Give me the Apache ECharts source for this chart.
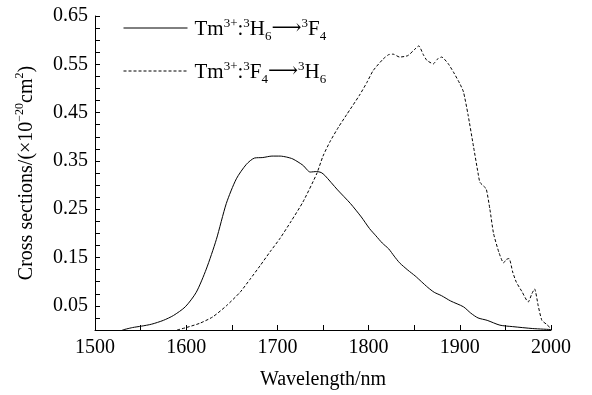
<!DOCTYPE html>
<html>
<head>
<meta charset="utf-8">
<script src="https://cdn.jsdelivr.net/npm/echarts@6/dist/echarts.min.js"></script>
<style>
  html, body { margin: 0; padding: 0; background: #fff; }
  #chart { width: 592px; height: 395px; }
</style>
</head>
<body>
<div id="chart"></div>
<script>
// Tm3+ absorption (3H6 -> 3F4), solid line
const absWl = [1530, 1541, 1551, 1562, 1575, 1586, 1599, 1611, 1622, 1633, 1644, 1655, 1666, 1675, 1684, 1694, 1703, 1710, 1717, 1728, 1736, 1743, 1748, 1752, 1766, 1780, 1792, 1801, 1808, 1815, 1822, 1828, 1834, 1843, 1851, 1858, 1865, 1872, 1880, 1890, 1904, 1912, 1920, 1930, 1944, 1958, 1980, 2000];
const absVal = [0, 0.005, 0.008, 0.012, 0.02, 0.03, 0.048, 0.078, 0.126, 0.187, 0.262, 0.313, 0.343, 0.356, 0.357, 0.36, 0.36, 0.358, 0.354, 0.341, 0.327, 0.328, 0.326, 0.32, 0.29, 0.262, 0.234, 0.21, 0.195, 0.18, 0.168, 0.153, 0.139, 0.124, 0.112, 0.1, 0.088, 0.078, 0.071, 0.06, 0.048, 0.035, 0.025, 0.02, 0.01, 0.007, 0.003, 0.001];

// Tm3+ emission (3F4 -> 3H6), dashed line
const emiWl = [1590, 1600, 1615, 1629, 1644, 1659, 1670, 1681, 1692, 1703, 1715, 1728, 1743, 1750, 1758, 1767, 1776, 1790, 1798, 1805, 1816, 1822, 1827, 1834, 1843, 1850, 1855, 1860, 1864, 1871, 1875, 1880, 1887, 1893, 1900, 1904, 1909, 1915, 1920, 1922, 1926, 1929, 1933, 1937, 1943, 1948, 1951, 1954, 1958, 1962, 1968, 1975, 1979, 1982, 1986, 1990, 1995, 2000];
const emiVal = [0, 0.005, 0.014, 0.027, 0.05, 0.078, 0.105, 0.133, 0.162, 0.19, 0.225, 0.265, 0.323, 0.36, 0.391, 0.42, 0.446, 0.486, 0.512, 0.537, 0.561, 0.57, 0.571, 0.565, 0.568, 0.58, 0.588, 0.57, 0.558, 0.551, 0.56, 0.565, 0.552, 0.534, 0.51, 0.493, 0.446, 0.38, 0.325, 0.306, 0.298, 0.292, 0.25, 0.2, 0.16, 0.139, 0.146, 0.148, 0.12, 0.099, 0.08, 0.058, 0.075, 0.085, 0.05, 0.02, 0.012, 0.003];

const xTicks = [1500, 1600, 1700, 1800, 1900, 2000];
const yTicks = [0.05, 0.15, 0.25, 0.35, 0.45, 0.55, 0.65];

const font = "'Liberation Serif', 'Times New Roman', serif";
const rich = {
  n: { fontFamily: font, fontSize: 21, color: '#000', verticalAlign: 'bottom', lineHeight: 24 },
  sup: { fontFamily: font, fontSize: 13, color: '#000', verticalAlign: 'top', lineHeight: 24, padding: [1, 0, 0, 0] },
  sub: { fontFamily: font, fontSize: 13, color: '#000', verticalAlign: 'bottom', lineHeight: 24, padding: [0, 0, -3, 0] },
  arr: { fontFamily: "'DejaVu Serif', serif", fontSize: 21, color: '#000', verticalAlign: 'bottom', lineHeight: 24, padding: [0, 0, 1, 0] }
};
const legendText = {
  abs: '{n|Tm}{sup|3+}{n|:}{sup|3}{n|H}{sub|6}{arr|\u27f6}{sup|3}{n|F}{sub|4}',
  emi: '{n|Tm}{sup|3+}{n|:}{sup|3}{n|F}{sub|4}{arr|\u27f6}{sup|3}{n|H}{sub|6}'
};
const yNameRich = {
  n: { fontFamily: font, fontSize: 20, color: '#000', verticalAlign: 'bottom', lineHeight: 24 },
  sup: { fontFamily: font, fontSize: 12, color: '#000', verticalAlign: 'top', lineHeight: 24, padding: [1, 0, 0, 0] }
};

const near = (v, list) => list.some(t => Math.abs(v - t) < 1e-6);

const chart = echarts.init(document.getElementById('chart'));
chart.setOption({
  animation: false,
  backgroundColor: '#fff',
  textStyle: { fontFamily: font, color: '#000' },
  grid: { left: 95, right: 41, top: 16, bottom: 61 },
  legend: {
    orient: 'vertical',
    left: 118,
    top: 11,
    itemWidth: 64,
    itemHeight: 14,
    itemGap: 16,
    data: ['abs', 'emi'],
    itemStyle: { opacity: 0 },
    lineStyle: { width: 1 },
    formatter: name => legendText[name],
    textStyle: { rich: rich, padding: [0, 0, 0, 2] }
  },
  xAxis: {
    type: 'value',
    min: 1500,
    max: 2000,
    interval: 50,
    name: 'Wavelength/nm',
    nameLocation: 'middle',
    nameGap: 40,
    nameTextStyle: { fontFamily: font, fontSize: 20, color: '#000' },
    axisLine: { lineStyle: { color: '#000', width: 1 } },
    axisTick: { inside: true, length: 5, lineStyle: { color: '#000' } },
    axisLabel: {
      fontFamily: font, fontSize: 20, color: '#000', margin: 8,
      formatter: v => near(v, xTicks) ? String(v) : ''
    },
    splitLine: { show: false }
  },
  yAxis: {
    type: 'value',
    min: 0,
    max: 0.65,
    interval: 0.025,
    name: '{n|Cross sections/(\u00d710}{sup|\u221220}{n|cm}{sup|2}{n|)}',
    nameLocation: 'middle',
    nameGap: 58,
    nameRotate: 90,
    nameTextStyle: { rich: yNameRich },
    axisLine: { show: true, lineStyle: { color: '#000', width: 1 } },
    axisTick: { show: true, inside: true, length: 5, lineStyle: { color: '#000' } },
    axisLabel: {
      fontFamily: font, fontSize: 20, color: '#000', margin: 7,
      formatter: v => near(v, yTicks) ? v.toFixed(2) : ''
    },
    splitLine: { show: false }
  },
  series: [
    {
      name: 'abs',
      type: 'line',
      symbol: 'none',
      smooth: 0.25,
      color: '#000',
      lineStyle: { color: '#000', width: 1 },
      data: absWl.map((x, i) => [x, absVal[i]])
    },
    {
      name: 'emi',
      type: 'line',
      symbol: 'none',
      smooth: 0.2,
      color: '#000',
      lineStyle: { color: '#000', width: 1, type: [3, 2] },
      data: emiWl.map((x, i) => [x, emiVal[i]])
    }
  ]
});
</script>
</body>
</html>
